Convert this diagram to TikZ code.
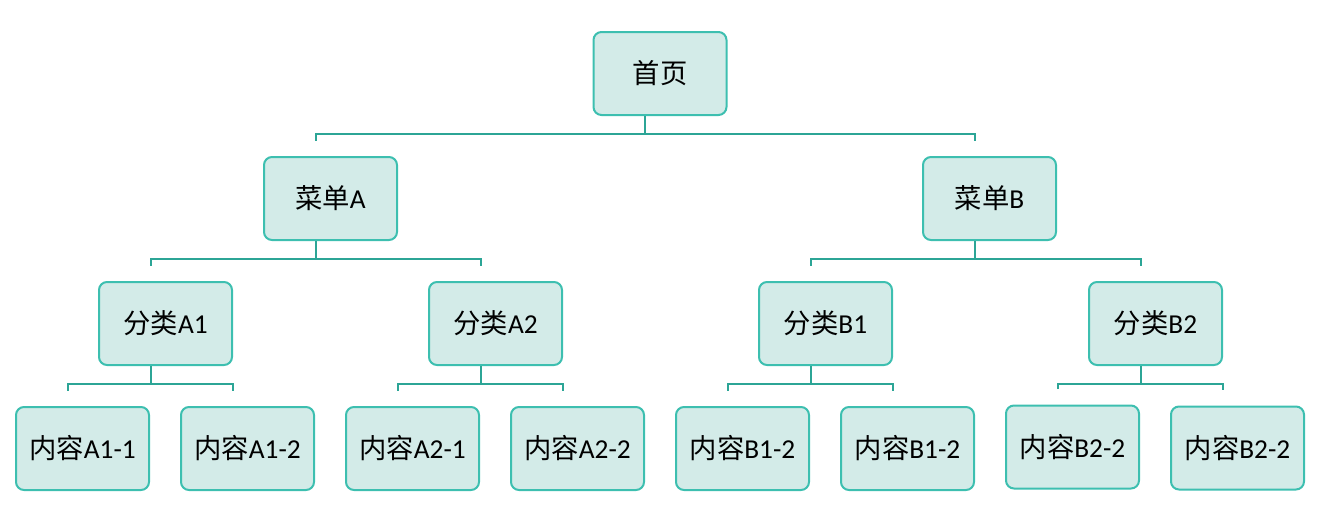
\documentclass[tikz,border=0pt]{standalone}
\usepackage{fontspec}
\setmainfont{Carlito}
\newfontfamily\cjk{Noto Sans CJK SC}
\definecolor{boxfill}{HTML}{D3EBE8}
\definecolor{boxline}{HTML}{3DBFB0}
\definecolor{connline}{HTML}{2CA596}
\tikzset{
  box/.style={draw=boxline, fill=boxfill, line width=1.5pt, rounded corners=6pt,
    minimum width=99.75pt, minimum height=62.25pt, inner sep=0pt, font=\fontsize{20.5}{24}\selectfont},
  conn/.style={draw=connline, line width=1.5pt},
}
\newcommand\branch[3]{%
  \draw[conn] ([xshift=-11.25pt]#1.south) -- ++(0,-13.5pt) coordinate (#1bar);
  \draw[conn] ([xshift=-11.25pt,yshift=11.5pt]#2.north) |- (#1bar) -| ([xshift=-11.25pt,yshift=11.5pt]#3.north);
}
\begin{document}
\begin{tikzpicture}[x=0.75pt,y=-0.75pt]
\useasboundingbox (0,0) rectangle (1322,519);
\node[box] (root) at (660,73.5) {{\cjk 首页}};
\node[box] (mA) at (330.5,198.5) {{\cjk 菜单}A};
\node[box] (mB) at (989.5,198.5) {{\cjk 菜单}B};
\node[box] (cA1) at (165.5,323.5) {{\cjk 分类}A1};
\node[box] (cA2) at (495.5,323.5) {{\cjk 分类}A2};
\node[box] (cB1) at (825.5,323.5) {{\cjk 分类}B1};
\node[box] (cB2) at (1155.5,323.5) {{\cjk 分类}B2};
\node[box] (nA11) at (82.5,448.5) {{\cjk 内容}A1-1};
\node[box] (nA12) at (247.5,448.5) {{\cjk 内容}A1-2};
\node[box] (nA21) at (412.5,448.5) {{\cjk 内容}A2-1};
\node[box] (nA22) at (577.5,448.5) {{\cjk 内容}A2-2};
\node[box] (nB11) at (742.5,448.5) {{\cjk 内容}B1-2};
\node[box] (nB12) at (907.5,448.5) {{\cjk 内容}B1-2};
\node[box] (nB21) at (1072.5,447) {{\cjk 内容}B2-2};
\node[box] (nB22) at (1237.5,448) {{\cjk 内容}B2-2};
\branch{root}{mA}{mB}
\branch{mA}{cA1}{cA2}
\branch{mB}{cB1}{cB2}
\branch{cA1}{nA11}{nA12}
\branch{cA2}{nA21}{nA22}
\branch{cB1}{nB11}{nB12}
\branch{cB2}{nB21}{nB22}
\end{tikzpicture}
\end{document}
